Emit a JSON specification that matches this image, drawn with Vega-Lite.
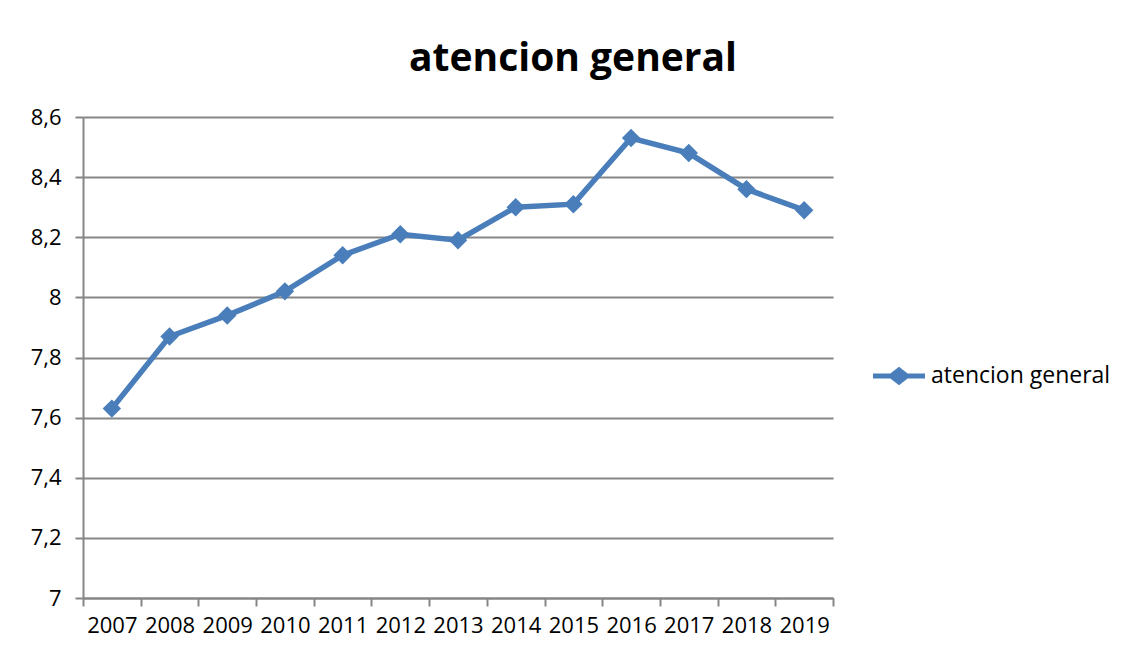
{
  "$schema": "https://vega.github.io/schema/vega-lite/v6.json",
  "width": 750,
  "height": 481,
  "autosize": {"type": "none"},
  "padding": {"left": 83, "top": 117, "right": 299, "bottom": 63},
  "background": "white",
  "config": {"view": {"stroke": null}, "font": "Open Sans"},
  "title": {
    "text": "atencion general",
    "fontSize": 39,
    "font": "Open Sans",
    "fontWeight": "bold",
    "color": "#000000",
    "anchor": "middle",
    "dx": 115,
    "offset": 27
  },
  "data": {
    "values": [
      {"year": "2007", "value": 7.63, "serie": "atencion general"},
      {"year": "2008", "value": 7.87, "serie": "atencion general"},
      {"year": "2009", "value": 7.94, "serie": "atencion general"},
      {"year": "2010", "value": 8.02, "serie": "atencion general"},
      {"year": "2011", "value": 8.14, "serie": "atencion general"},
      {"year": "2012", "value": 8.21, "serie": "atencion general"},
      {"year": "2013", "value": 8.19, "serie": "atencion general"},
      {"year": "2014", "value": 8.30, "serie": "atencion general"},
      {"year": "2015", "value": 8.31, "serie": "atencion general"},
      {"year": "2016", "value": 8.53, "serie": "atencion general"},
      {"year": "2017", "value": 8.48, "serie": "atencion general"},
      {"year": "2018", "value": 8.36, "serie": "atencion general"},
      {"year": "2019", "value": 8.29, "serie": "atencion general"}
    ]
  },
  "encoding": {
    "x": {
      "field": "year",
      "type": "ordinal",
      "bandPosition": 0.5,
      "scale": {"type": "band", "paddingInner": 0, "paddingOuter": 0},
      "axis": {
        "title": null,
        "labelAngle": 0,
        "tickBand": "extent",
        "ticks": true,
        "tickSize": 8,
        "tickColor": "#868686",
        "tickWidth": 2,
        "domainColor": "#868686",
        "domainWidth": 2,
        "grid": false,
        "labelFontSize": 22,
        "labelFont": "Open Sans",
        "labelColor": "#000000",
        "labelPadding": 9,
        "labelOverlap": false
      }
    },
    "y": {
      "field": "value",
      "type": "quantitative",
      "scale": {"domain": [7, 8.6], "nice": false, "zero": false},
      "axis": {
        "title": null,
        "values": [7, 7.2, 7.4, 7.6, 7.8, 8, 8.2, 8.4, 8.6],
        "labelExpr": "replace(toString(datum.value), '.', ',')",
        "grid": true,
        "gridColor": "#868686",
        "gridWidth": 2,
        "domainColor": "#868686",
        "domainWidth": 2,
        "tickColor": "#868686",
        "tickWidth": 2,
        "tickSize": 8,
        "labelFontSize": 22,
        "labelFont": "Open Sans",
        "labelColor": "#000000",
        "labelPadding": 14
      }
    },
    "color": {
      "field": "serie",
      "type": "nominal",
      "scale": {"range": ["#4A7EBB"]},
      "legend": {
        "title": null,
        "orient": "none",
        "legendX": 790,
        "legendY": 233,
        "labelFontSize": 23,
        "labelFont": "Open Sans",
        "labelColor": "#000000",
        "labelOffset": 6,
        "labelLimit": 400,
        "symbolType": "M-1,-0.1L-0.33,-0.1L0,-0.36L0.33,-0.1L1,-0.1L1,0.1L0.33,0.1L0,0.36L-0.33,0.1L-1,0.1Z",
        "symbolSize": 2704,
        "symbolStrokeWidth": 0,
        "encode": {
          "symbols": {"update": {"fill": {"value": "#4A7EBB"}, "stroke": {"value": "transparent"}, "opacity": {"value": 1}}}
        }
      }
    }
  },
  "layer": [
    {"mark": {"type": "line", "strokeWidth": 5.5}},
    {"mark": {"type": "point", "shape": "diamond", "filled": true, "size": 340, "opacity": 1}}
  ]
}
